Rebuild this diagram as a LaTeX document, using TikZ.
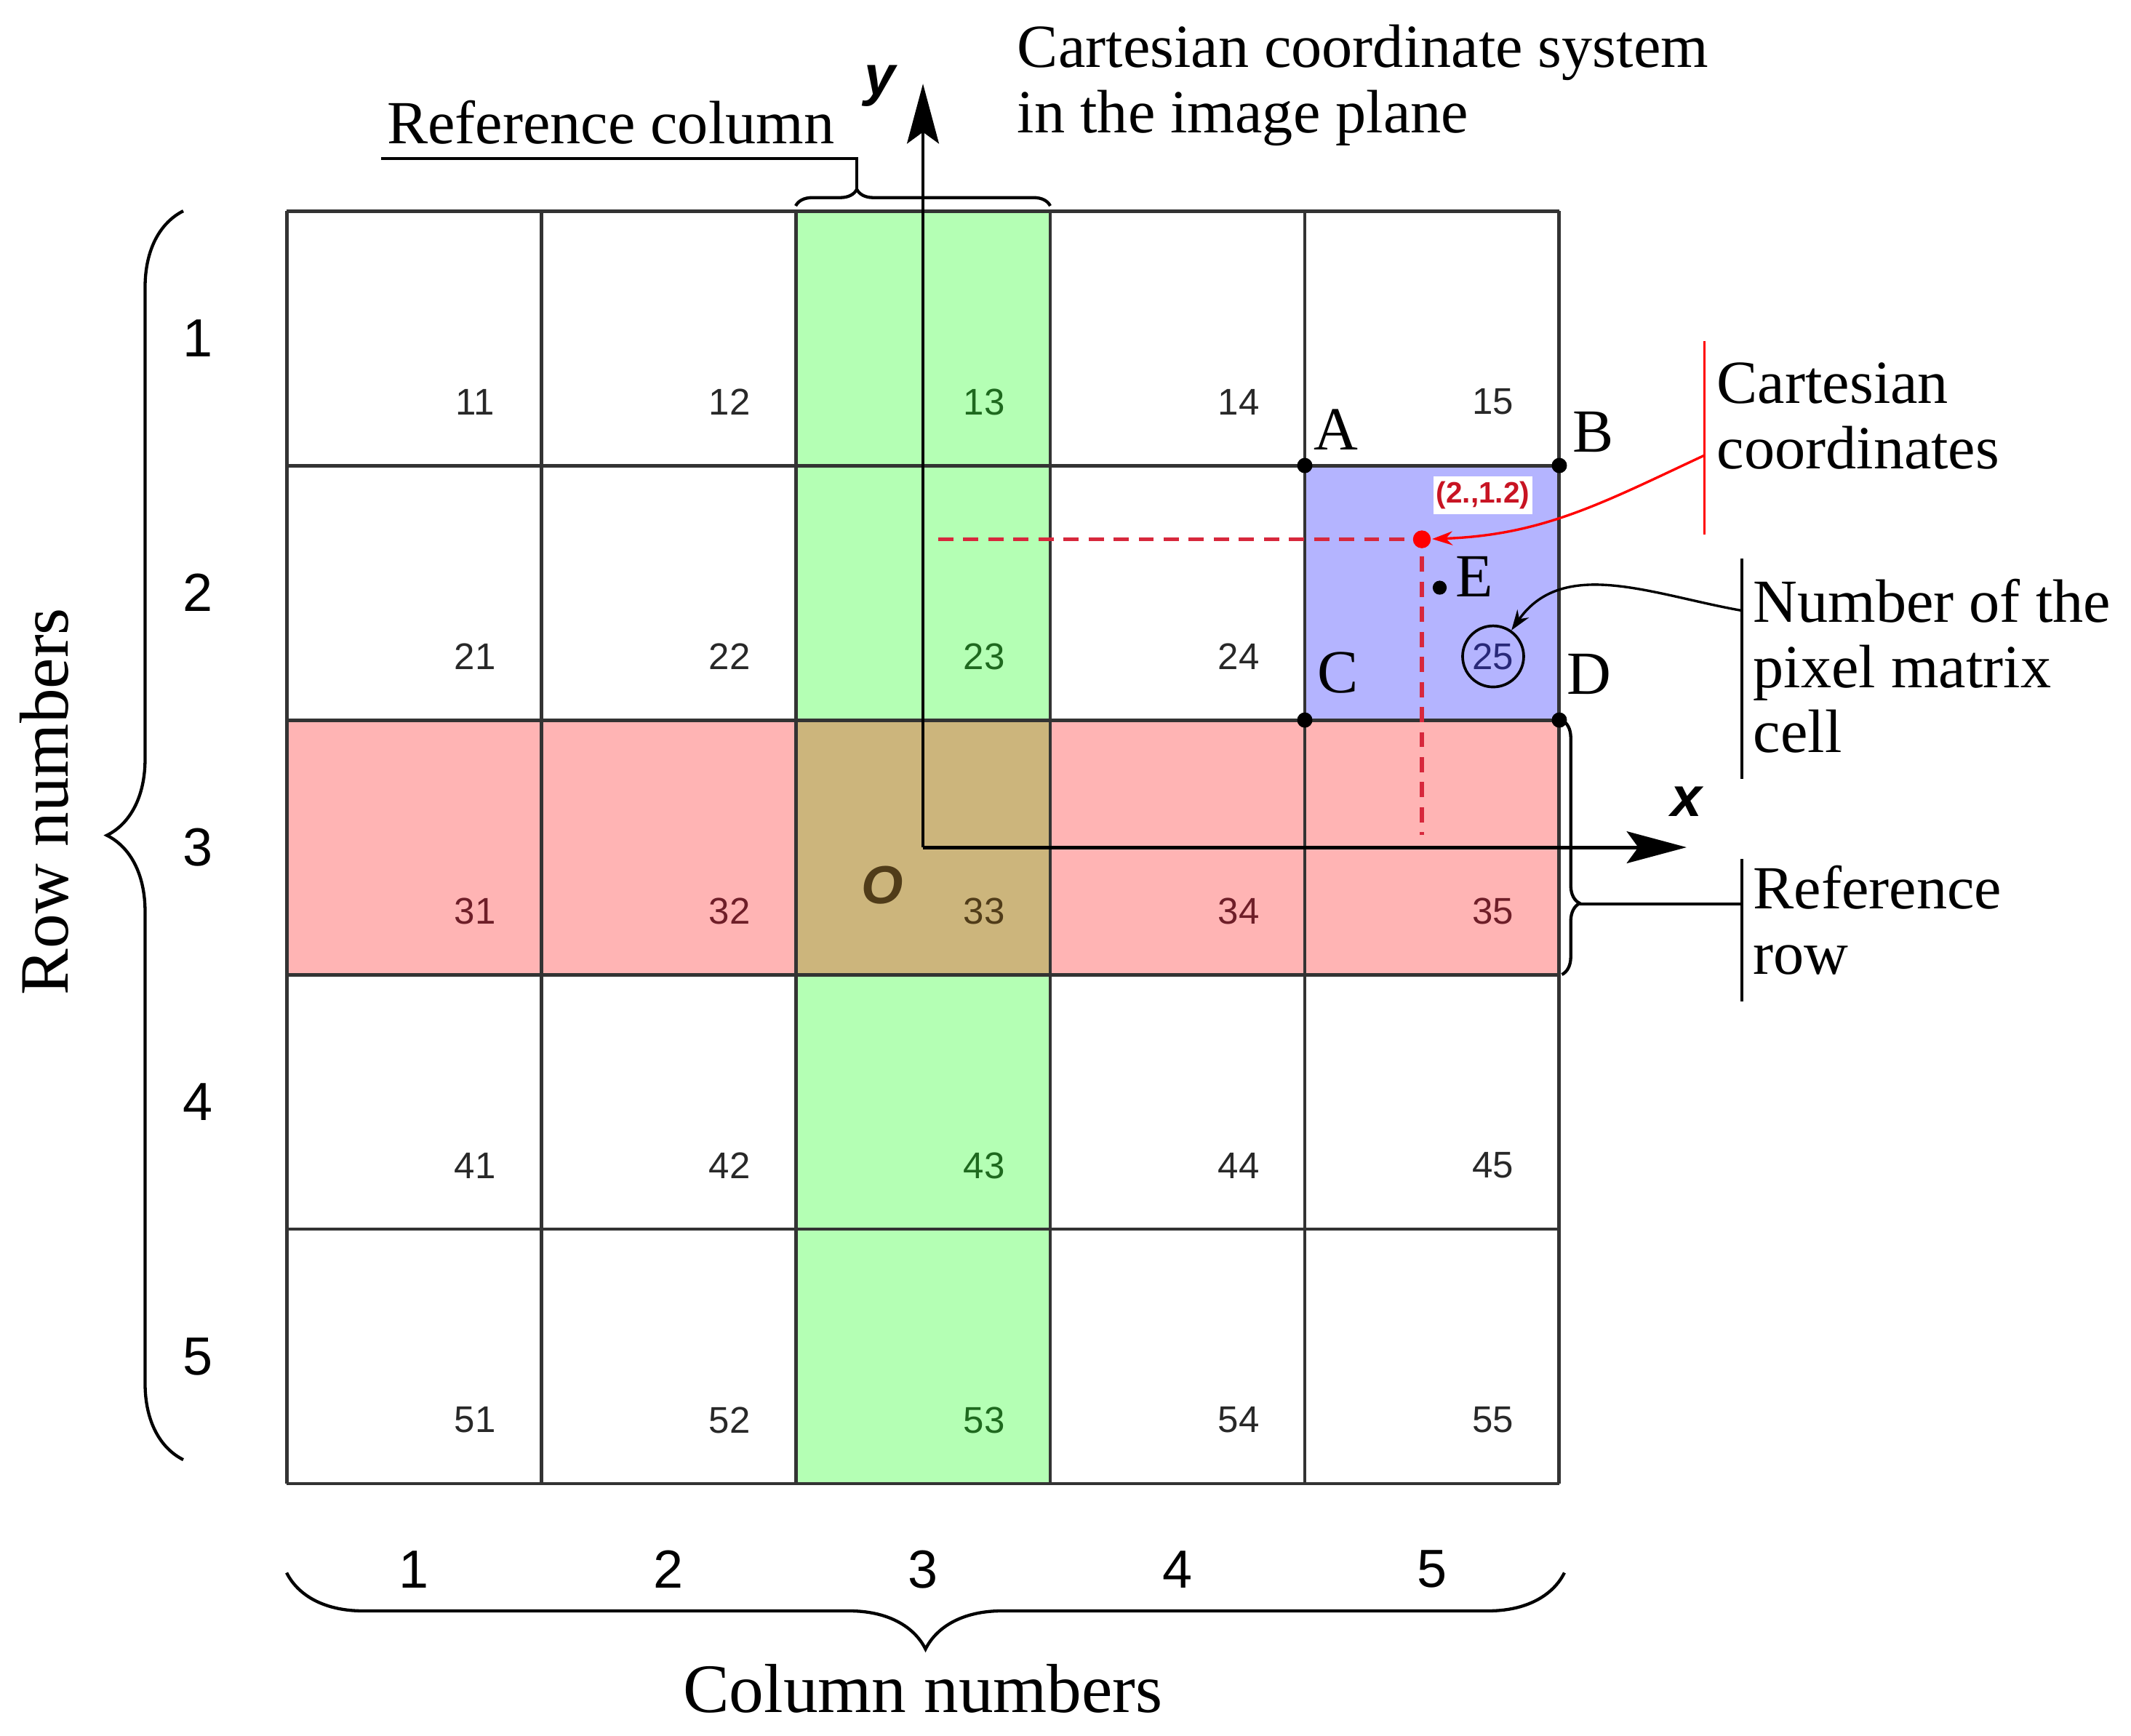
\documentclass[tikz,border=0pt]{standalone}
\usepackage{fontspec}
\setmainfont{Liberation Serif}
\setsansfont{Liberation Sans}
\usetikzlibrary{arrows.meta,positioning,decorations.pathreplacing}

\definecolor{colgreen}{RGB}{180,255,180}
\definecolor{rowred}{RGB}{255,180,180}
\definecolor{origtan}{RGB}{204,181,124}
\definecolor{cellblue}{RGB}{180,180,255}
\definecolor{numgray}{RGB}{40,40,40}
\definecolor{numgreen}{RGB}{30,105,30}
\definecolor{numred}{RGB}{110,30,40}
\definecolor{numbrown}{RGB}{80,60,25}
\definecolor{numblue}{RGB}{40,40,120}
\definecolor{dashred}{RGB}{215,40,60}
\definecolor{labred}{RGB}{200,20,35}

\begin{document}
\begin{tikzpicture}[x=2cm,y=2cm,>=Stealth,semithick]
    \tikzstyle{every node}=[inner sep=0pt]
    \tikzstyle{gridline}=[line width=0.8pt,draw=black!80]
    \tikzstyle{axisline}=[line width=0.8pt,-{Stealth[length=4.7mm,width=2.5mm,inset=0.9mm]}]
    \tikzstyle{dashline}=[line width=0.9pt,dashred,dash pattern=on 3.4pt off 2.2pt]
    \tikzstyle{cellnum}=[font=\sffamily\fontsize{8.3}{10}\selectfont]
    \tikzstyle{index}=[font=\sffamily\fontsize{12}{14}\selectfont]
    \tikzstyle{caption}=[font=\fontsize{13.7}{14.6}\selectfont,align=left]
    \tikzstyle{axtitle}=[font=\fontsize{15.5}{18}\selectfont]
    \tikzstyle{axlabel}=[font=\sffamily\bfseries\itshape\fontsize{12.5}{14}\selectfont]
    \tikzstyle{cornerdot}=[circle,fill=black,minimum size=1.2mm]
    \tikzstyle{ptlabel}=[font=\fontsize{13.7}{16}\selectfont]
    \tikzstyle{leader}=[line width=0.55pt]
    \tikzstyle{curly}=[line width=0.7pt,decorate]
    \tikzstyle{smallhead}=[-{Stealth[length=1.6mm,width=1.1mm]}]

    \useasboundingbox (-1.126,-0.989) rectangle (7.246,5.829);

    % coloured cells
    \fill[colgreen] (2,0) rectangle (3,5);
    \fill[rowred] (0,2) rectangle (5,3);
    \fill[origtan] (2,2) rectangle (3,3);
    \fill[cellblue] (4,3) rectangle (5,4);
    \draw[gridline,step=2cm] (0,0) grid (5,5);

    % cell numbers
    \foreach \ri in {1,...,5}
      \foreach \ci in {1,...,5}{
        \def\numcol{numgray}
        \ifnum\ci=3 \def\numcol{numgreen}\fi
        \ifnum\ri=3 \def\numcol{numred}\fi
        \ifnum\ri\ci=33 \def\numcol{numbrown}\fi
        \ifnum\ri\ci=25 \def\numcol{numblue}\fi
        \node[cellnum,text=\numcol] (n\ri\ci) at (\ci-0.26,5.25-\ri) {\ri\ci};
      }

    % row and column indices
    \foreach \i in {1,...,5}{
      \node[index] (r\i) at (-0.35,5.5-\i) {\i};
      \node[index] (c\i) at (\i-0.5,-0.337) {\i};
    }

    % dashed projections of the point
    \coordinate (rp) at (4.46,3.71);
    \coordinate (hd) at (2.56,3.71);
    \coordinate (vd) at (4.46,2.55);
    \draw[dashline] (hd) -- (rp) -- (vd);

    % axes
    \coordinate (orig) at (2.5,2.5);
    \coordinate (xend) at (5.5,2.5);
    \coordinate (yend) at (2.5,5.5);
    \draw[axisline] (orig) -- (xend);
    \draw[axisline] (orig) -- (yend);
    \node[axlabel] (xl) at (5.50,2.68) {x};
    \node[axlabel] (yl) at (2.33,5.49) {y};
    \node[axlabel,text=numbrown,font=\sffamily\bfseries\itshape\fontsize{12}{14}\selectfont] (ol) at (2.34,2.35) {O};

    \node[circle,fill=red,minimum size=1.4mm] (rpt) at (rp) {};
    \node[font=\sffamily\bfseries\fontsize{6.6}{8}\selectfont,text=labred,fill=white,
      inner xsep=0.6pt,inner ysep=1.2pt] (rcoord) at (4.70,3.883) {(2.,1.2)};

    % corners of cell 25
    \node[cornerdot] (A) at (4,4) {};
    \node[cornerdot] (B) at (5,4) {};
    \node[cornerdot] (C) at (4,3) {};
    \node[cornerdot] (D) at (5,3) {};
    \node[cornerdot,minimum size=1.1mm] (E) at (4.53,3.52) {};
    \node[ptlabel,above right=0.65mm and 0.1mm of A] (la) {A};
    \node[ptlabel,above right=0.45mm and 0.45mm of B] (lb) {B};
    \node[ptlabel,above right=1.5mm and 0.4mm of C] (lc) {C};
    \node[ptlabel,above right=1.4mm and 0mm of D] (ld) {D};
    \node[ptlabel,right=0.5mm of E,yshift=0.86mm] (le) {E};
    \node[draw,circle,minimum size=4.8mm,line width=0.6pt] (ring) at (n25) {};

    % texts
    \node[caption,anchor=west] (cartsys) at (2.866,5.494) {Cartesian coordinate system\\in the image plane};
    \node[caption,anchor=base west] (refcol) at (0.389,5.266) {Reference column};
    \node[caption,anchor=west] (cartco) at (5.614,4.195) {Cartesian\\coordinates};
    \node[caption,anchor=west] (pixnum) at (5.757,3.212) {Number of the\\pixel matrix\\cell};
    \node[caption,anchor=west] (refrow) at (5.757,2.214) {Reference\\row};
    \node[axtitle,anchor=base] (colnums) at (2.5,-0.9) {Column numbers};
    \node[axtitle,anchor=base,rotate=90] (rownums) at (-0.86,2.68) {Row numbers};

    % leaders
    \coordinate (cb1) at (5.57,4.49);
    \coordinate (cb2) at (5.57,3.73);
    \coordinate (cbm) at (5.57,4.04);
    \draw[leader,red] (cb1) -- (cb2);
    \draw[leader,red,smallhead] (cbm) to[out=205,in=2] (rpt);
    \coordinate (pb1) at (5.717,3.634);
    \coordinate (pb2) at (5.717,2.77);
    \coordinate (pbm) at (5.717,3.43);
    \draw[leader] (pb1) -- (pb2);
    \draw[leader,smallhead] (pbm) to[out=170,in=55] (ring);
    \coordinate (rb1) at (5.717,2.454);
    \coordinate (rb2) at (5.717,1.894);
    \coordinate (rbm) at (5.717,2.277);
    \draw[leader] (rb1) -- (rb2);

    % braces
    \draw[curly,decoration={brace,amplitude=6mm}] (-0.406,0.094) -- (-0.406,5.0);
    \draw[curly,decoration={brace,amplitude=6mm}] (5.02,-0.35) -- (0,-0.35);
    \draw[curly,decoration={brace,amplitude=1.3mm,aspect=0.24}] (2,5.02) -- (3,5.02);
    \draw[curly,decoration={brace,amplitude=1.4mm,aspect=0.72}] (5.01,3.0) -- (5.01,2.0);
    \coordinate (colbr) at (2.24,5.085);
    \coordinate (refcolend) at (0.37,5.206);
    \coordinate (rowbr) at (5.08,2.277);
    \draw[leader] (colbr) |- (refcolend);
    \draw[leader] (rowbr) -- (rbm);
\end{tikzpicture}
\end{document}
